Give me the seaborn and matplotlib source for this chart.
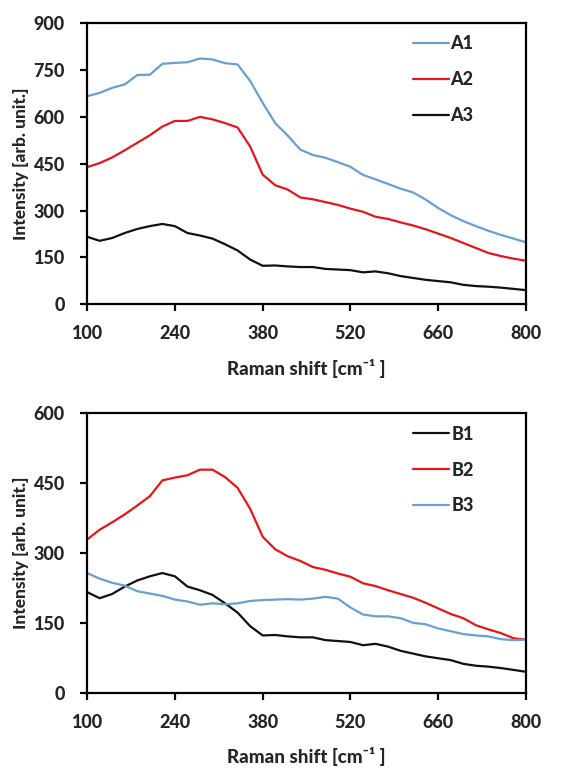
import numpy as np
import pandas as pd
import matplotlib
matplotlib.use("Agg")
import matplotlib.pyplot as plt
import seaborn as sns

# Raman shift grid [cm^-1]
shift = list(range(100, 801, 20))

a1 = [666, 677, 693, 704, 734, 735, 770, 773, 775, 787, 784, 772, 768, 715, 645, 580,
      540, 495, 478, 469, 455, 440, 414, 400, 385, 370, 358, 335, 308, 285, 266, 250,
      235, 222, 210, 198]
a2 = [439, 452, 470, 493, 517, 541, 569, 587, 587, 600, 592, 580, 566, 505, 415, 381,
      367, 342, 336, 327, 318, 306, 296, 280, 273, 262, 252, 240, 226, 212, 196, 180,
      164, 154, 146, 139]
a3 = [216, 203, 212, 228, 241, 250, 257, 250, 228, 220, 210, 192, 172, 143, 123, 124,
      121, 119, 119, 113, 111, 109, 102, 105, 99, 90, 84, 78, 74, 70, 62, 58,
      56, 53, 49, 45]

b1 = list(a3)
b2 = [329, 350, 366, 383, 402, 422, 456, 462, 467, 479, 479, 463, 440, 395, 335, 308,
      293, 283, 270, 264, 256, 249, 235, 229, 220, 212, 204, 193, 181, 169, 160, 145,
      136, 128, 117, 114]
b3 = [257, 245, 236, 230, 218, 213, 208, 200, 196, 189, 192, 190, 192, 197, 199, 200,
      201, 200, 202, 206, 202, 183, 168, 164, 164, 160, 150, 147, 138, 132, 126, 123,
      121, 115, 113, 114]

x_ticks = [100, 240, 380, 520, 660, 800]
top_yticks = [0, 150, 300, 450, 600, 750, 900]
bot_yticks = [0, 150, 300, 450, 600]

blue = "#6a9fd2"
red = "#e8141c"
black = "#111111"


def long_form(series):
    frames = []
    for name, vals in series.items():
        frames.append(pd.DataFrame({"shift": shift, "intensity": vals, "sample": name}))
    return pd.concat(frames, ignore_index=True)


sns.set_style("ticks")
plt.rcParams["font.family"] = ["Lato", "DejaVu Sans"]
weight = 900

fig = plt.figure(figsize=(5.62, 7.74), dpi=100)
ax1 = fig.add_axes([0.155, 0.607, 0.781, 0.363])
ax2 = fig.add_axes([0.155, 0.105, 0.781, 0.361])

panels = [
    (ax1, {"A1": a1, "A2": a2, "A3": a3}, {"A1": blue, "A2": red, "A3": black}, top_yticks),
    (ax2, {"B1": b1, "B2": b2, "B3": b3}, {"B1": black, "B2": red, "B3": blue}, bot_yticks),
]

for ax, series, palette, yticks in panels:
    df = long_form(series)
    sns.lineplot(data=df, x="shift", y="intensity", hue="sample", palette=palette,
                 linewidth=1.6, ax=ax)
    ax.set_xlim(100, 800)
    ax.set_ylim(yticks[0], yticks[-1])
    ax.set_xticks(x_ticks)
    ax.set_yticks(yticks)
    for s in ax.spines.values():
        s.set_linewidth(1.6)
        s.set_color("black")
    ax.tick_params(axis="both", direction="out", length=5, width=1.6,
                   labelsize=13, color="black")
    ax.tick_params(axis="x", pad=10)
    ax.tick_params(axis="y", pad=11)
    for lab in ax.get_xticklabels() + ax.get_yticklabels():
        lab.set_fontweight(weight)
    ax.set_xlabel("Raman shift [cm\u207b\u00b9 ]", fontsize=13.5, fontweight=weight, labelpad=12)
    ax.set_ylabel("Intensity [arb. unit.]", fontsize=12.5, fontweight=weight, labelpad=3)
    leg = ax.legend(loc="upper right", bbox_to_anchor=(0.897, 0.982), borderaxespad=0,
                    frameon=False, handlelength=2.0, handletextpad=0.1,
                    labelspacing=1.05, fontsize=13)
    for t in leg.get_texts():
        t.set_fontweight(weight)

fig.savefig("out.png", dpi=100)
